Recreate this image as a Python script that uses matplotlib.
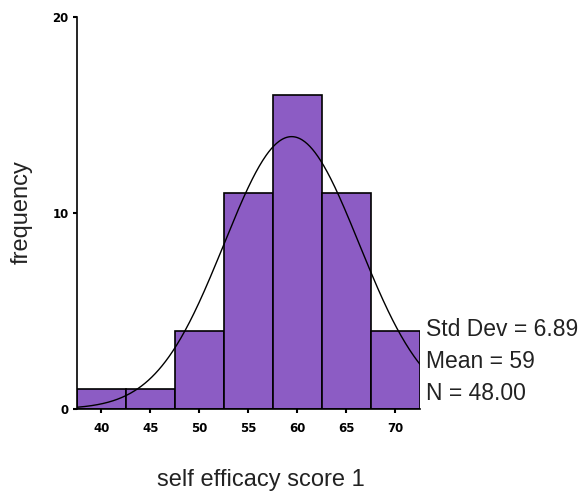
import numpy as np
import matplotlib
matplotlib.use("Agg")
import matplotlib.pyplot as plt

# data
bin_edges = [37.5, 42.5, 47.5, 52.5, 57.5, 62.5, 67.5, 72.5]
counts = [1, 1, 4, 11, 16, 11, 4]
x_ticks = [40, 45, 50, 55, 60, 65, 70]
y_ticks = [0, 10, 20]
std_dev = 6.89
mean_val = 59.4   # curve centre (label shows 59)
mean_label = "59"
n_label = "48.00"
std_label = "6.89"
n_total = sum(counts)

fig = plt.figure(figsize=(5.83, 4.92), dpi=100)
ax = fig.add_axes([77/583, 1-409/492, (420-77)/583, (409-17)/492])

edges = np.array(bin_edges)
widths = np.diff(edges)
ax.bar(edges[:-1], counts, width=widths, align="edge",
       color="#8c5cc4", edgecolor="black", linewidth=1.2, zorder=2)

bw = widths[0]
xs = np.linspace(edges[0], edges[-1], 400)
ys = n_total * bw / (std_dev * np.sqrt(2*np.pi)) * np.exp(-0.5*((xs-mean_val)/std_dev)**2)
ax.plot(xs, ys, color="black", linewidth=1.0, zorder=3)

ax.set_xlim(edges[0], edges[-1])
ax.set_ylim(0, 20)
for s in ["top", "right"]:
    ax.spines[s].set_visible(False)
for s in ["left", "bottom"]:
    ax.spines[s].set_linewidth(1.2)

ax.set_xticks(x_ticks)
ax.set_xticklabels([str(t) for t in x_ticks])
ax.set_yticks(y_ticks)
ax.set_yticklabels([str(t) for t in y_ticks])
ax.tick_params(axis="both", direction="out", length=3, width=1.5,
               labelsize=8.5)
ax.tick_params(axis="x", pad=6)
ax.tick_params(axis="y", pad=3)
for lab in ax.get_xticklabels() + ax.get_yticklabels():
    lab.set_fontweight("bold")
    lab.set_family("DejaVu Sans")

fig.text(261/583, 1-480/492, "self efficacy score 1", fontsize=17,
         family="Liberation Sans", color="#222222", ha="center", va="center")
fig.text(22/583, 1-212/492, "frequency", fontsize=17, rotation=90,
         family="Liberation Sans", color="#222222", ha="center", va="center")

stats = [f"Std Dev = {std_label}", f"Mean = {mean_label}", f"N = {n_label}"]
for i, t in enumerate(stats):
    fig.text(426/583, 1-(330+32*i)/492, t, fontsize=16.5,
             family="Liberation Sans", color="#222222", va="center", ha="left")

fig.savefig("out.png", dpi=100)
